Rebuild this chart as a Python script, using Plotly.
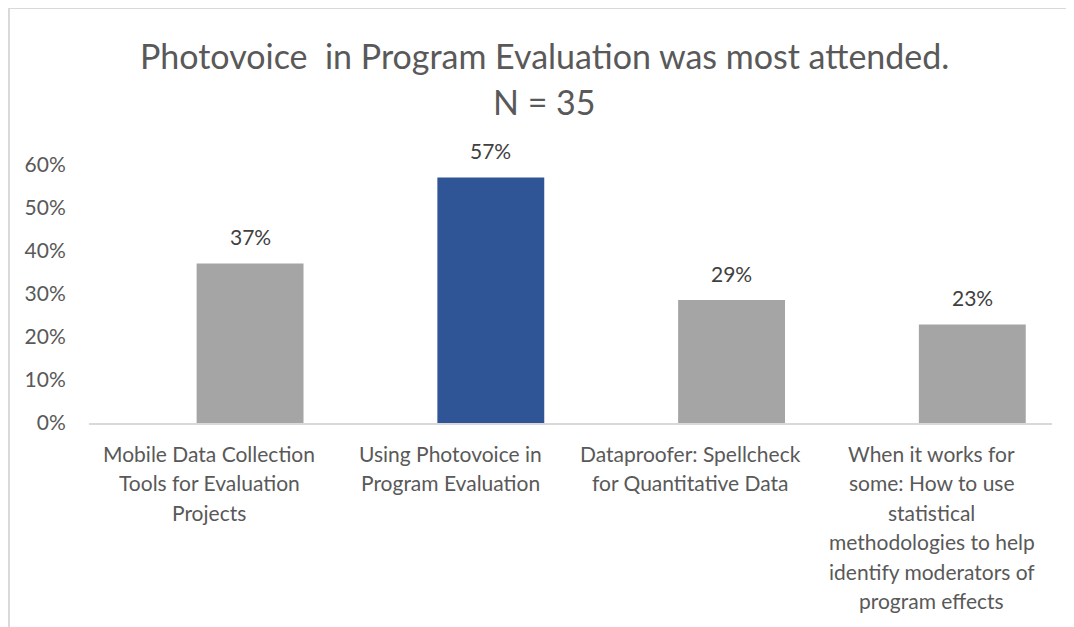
import plotly.graph_objects as go

categories = [
    "Mobile Data Collection<br>Tools for Evaluation<br>Projects",
    "Using Photovoice in<br>Program Evaluation",
    "Dataproofer: Spellcheck<br>for Quantitative Data",
    "When it works for<br>some: How to use<br>statistical<br>methodologies to help<br>identify moderators of<br>program effects",
]
values = [0.371, 0.571, 0.286, 0.229]
value_labels = ["37%", "57%", "29%", "23%"]
y_ticks = [0, 0.1, 0.2, 0.3, 0.4, 0.5, 0.6]
title_lines = ["Photovoice  in Program Evaluation was most attended.", "N = 35"]

GRAY = "#a5a5a5"
BLUE = "#2f5597"
bar_colors = [GRAY, BLUE, GRAY, GRAY]
FONT = "Lato"
TXT = "#595959"

xs = list(range(len(categories)))
BAR_W = 0.444
BAR_SHIFT = 0.169  # bars sit right of category centre

fig = go.Figure()
fig.add_trace(go.Bar(
    x=xs, y=values, width=BAR_W, offset=BAR_SHIFT - BAR_W / 2,
    marker=dict(color=bar_colors, line=dict(width=0)),
    hoverinfo="skip", showlegend=False,
))

annotations = []
for i, (v, t) in enumerate(zip(values, value_labels)):
    annotations.append(dict(
        x=i + BAR_SHIFT, y=v, xref="x", yref="y", text=t, showarrow=False,
        yanchor="middle", xanchor="center", yshift=27,
        font=dict(family=FONT, size=21, color="#404040"),
    ))
for i, cat in enumerate(categories):
    for k, line in enumerate(cat.split("<br>")):
        annotations.append(dict(
            x=i, y=0, xref="x", yref="y", text=line, showarrow=False,
            yanchor="middle", xanchor="center", yshift=-30 - 29.5 * k,
            font=dict(family=FONT, size=21, color=TXT),
        ))
for k, (line, yp) in enumerate(zip(title_lines, [1.4225, 1.248])):
    annotations.append(dict(
        x=0.4735, y=yp, xref="paper", yref="paper", text=line, showarrow=False,
        yanchor="middle", xanchor="center",
        font=dict(family=FONT, size=34, color=TXT),
    ))

fig.update_layout(
    width=1074, height=627,
    margin=dict(l=81, r=30, t=157, b=212),
    paper_bgcolor="white", plot_bgcolor="white",
    annotations=annotations,
    xaxis=dict(range=[-0.5, 3.5], showticklabels=False, showgrid=False, zeroline=False,
               showline=True, linecolor="#d9d9d9", linewidth=2, ticks="", fixedrange=True),
    yaxis=dict(range=[0, 0.6], tickvals=y_ticks, tickformat=".0%", showgrid=False,
               zeroline=False, showline=False, ticks="outside", ticklen=18,
               tickcolor="rgba(0,0,0,0)",
               tickfont=dict(family=FONT, size=21, color=TXT)),
    shapes=[
        dict(type="line", xref="paper", yref="paper", x0=-0.0831, x1=-0.0831, y0=-1, y1=1.6085,
             line=dict(color="#d9d9d9", width=2)),
        dict(type="line", xref="paper", yref="paper", x0=-0.0831, x1=1.1, y0=1.6085, y1=1.6085,
             line=dict(color="#d9d9d9", width=2)),
    ],
)

fig.write_html("out.html")
